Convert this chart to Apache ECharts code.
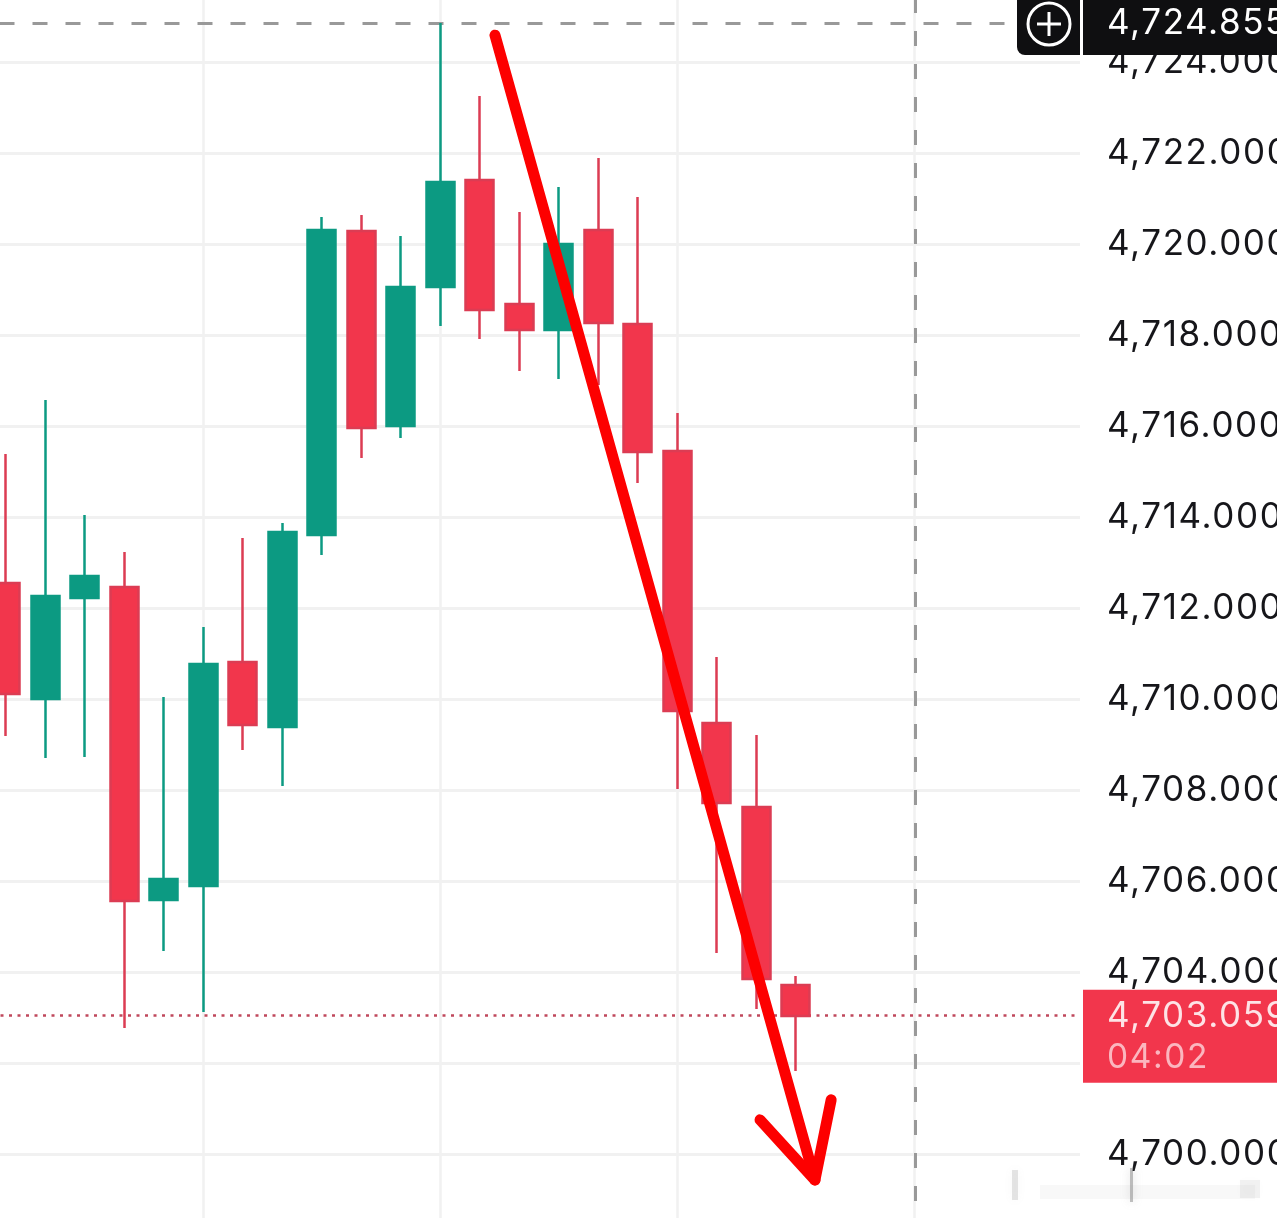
<!DOCTYPE html>
<html><head><meta charset="utf-8">
<style>html,body{margin:0;padding:0;background:#fff;overflow:hidden}#c{width:1277px;height:1218px}</style>
<script src="https://cdn.jsdelivr.net/npm/echarts@6/dist/echarts.min.js"></script>
</head><body><div id="c"></div>
<script>
// position of each candle on the shared horizontal time scale
const slots = [1,2,3,4,5,6,7,8,9,10,11,12,13,14,15,16,17,18,19,20,21];
const opens  = [4712.549,4710.0,4712.22,4712.462,4705.582,4705.89,4710.813,4709.385,4713.604,4720.286,4716.0,4719.055,4721.407,4718.681,4718.11,4720.308,4718.242,4715.451,4709.473,4707.626,4703.714];
const closes = [4710.11,4712.264,4712.703,4705.56,4706.044,4710.769,4709.429,4713.67,4720.308,4715.956,4719.055,4721.363,4718.549,4718.11,4720.0,4718.264,4715.429,4709.736,4707.714,4703.846,4703.033];
const lows   = [4709.187,4708.703,4708.725,4702.769,4704.462,4703.121,4708.879,4708.088,4713.165,4715.297,4715.736,4718.198,4717.912,4717.209,4717.033,4716.901,4714.747,4708.022,4704.418,4703.187,4701.824];
const highs  = [4715.385,4716.571,4714.044,4713.231,4710.044,4711.582,4713.538,4713.868,4720.593,4720.637,4720.176,4724.855,4723.253,4720.703,4721.253,4721.89,4721.033,4716.286,4710.923,4709.209,4703.912];
const lastPrice = 4703.059;
const highPrice = 4724.855;
const countdown = '04:02';
const crosshairSlot = 24.02;
// hand-drawn arrow annotation, in chart units
const arrowX = [13.38,21.48];
const arrowY = [4724.59,4699.43];
const headX = [20.09,21.48,21.89];
const headY = [4700.75,4699.43,4701.19];

const FONT = 'Inter';
const GREEN = '#0c9a82', RED = '#f2364c', WICK_RED = '#dc3c53';
const fmt = v => v.toLocaleString('en-US',{minimumFractionDigits:3,maximumFractionDigits:3});

const chart = echarts.init(document.getElementById('c'),null,{renderer:'canvas'});
const lineOf = (xs,ys) => xs.map((x,i)=>[x,ys[i]]);
chart.setOption({
  animation:false,
  backgroundColor:'#ffffff',
  grid:{left:-33.5,width:1113.5,top:-29,height:1274,containLabel:false,outerBoundsMode:'none'},
  tooltip:{show:false},
  legend:{show:false},
  xAxis:{type:'value',min:0,max:28.19,interval:6,
    axisLine:{show:false},axisTick:{show:false},axisLabel:{show:false},
    splitLine:{show:true,showMaxLine:false,showMinLine:false,lineStyle:{color:'#f1f1f1',width:2.5}}},
  yAxis:{type:'value',position:'right',min:4698,max:4726,interval:2,
    axisLine:{show:false},axisTick:{show:false},
    axisLabel:{show:true,margin:27,color:'#16161a',fontFamily:FONT,fontSize:35,
      formatter:v=>fmt(v),showMinLabel:false,showMaxLabel:false,align:'left'},
    splitLine:{show:true,lineStyle:{color:'#f1f1f1',width:3}}},
  series:[
    {type:'candlestick',name:'price',barWidth:28.5,z:3,
     data:slots.map((s,i)=>[s,opens[i],closes[i],lows[i],highs[i]]),
     encode:{x:0,y:[1,2,3,4]},
     itemStyle:{color:GREEN,color0:RED,borderColor:GREEN,borderColor0:WICK_RED,borderWidth:2.5},
     markLine:{silent:true,symbol:'none',label:{show:false},animation:false,z:2,data:[
       {yAxis:highPrice,lineStyle:{color:'#999999',type:[15,18],width:3}},
       {xAxis:crosshairSlot,lineStyle:{color:'#999999',type:[15,18],dashOffset:22,width:3}},
       {yAxis:lastPrice,lineStyle:{color:'#c0485c',type:[3,5.5],width:2.5}}
     ]}},
    {type:'line',name:'arrow',z:6,symbol:'none',silent:true,clip:false,data:lineOf(arrowX,arrowY),
     lineStyle:{color:'#fd0000',width:11,cap:'round',join:'round'}},
    {type:'line',name:'arrow head',z:6,symbol:'none',silent:true,clip:false,data:lineOf(headX,headY),
     lineStyle:{color:'#fd0000',width:11,cap:'round',join:'round'}}
  ]
});
const yHigh = chart.convertToPixel({yAxisIndex:0},highPrice);
const yLast = chart.convertToPixel({yAxisIndex:0},lastPrice);
const smudge = (x,y,w,h,o)=>({type:'rect',shape:{x,y,width:w,height:h},z:1,
  style:{fill:'rgba(150,150,150,'+o+')',shadowBlur:8,shadowColor:'rgba(150,150,150,'+o+')'}});
const cv = chart.getDom().querySelector('canvas');
if (cv) cv.getContext('2d').letterSpacing = '1.6px';
chart.setOption({graphic:{elements:[
  {type:'rect',z:20,shape:{x:1017,y:-10,width:63,height:65,r:[0,0,0,8]},style:{fill:'#0f0f11'}},
  {type:'rect',z:20,shape:{x:1083,y:-10,width:194,height:65},style:{fill:'#0f0f11'}},
  {type:'circle',z:21,shape:{cx:1049,cy:24,r:21},style:{fill:'none',stroke:'#fff',lineWidth:3}},
  {type:'line',z:21,shape:{x1:1037,y1:24,x2:1061,y2:24},style:{stroke:'#fff',lineWidth:3}},
  {type:'line',z:21,shape:{x1:1049,y1:12,x2:1049,y2:36},style:{stroke:'#fff',lineWidth:3}},
  {type:'text',z:22,x:1107,y:yHigh,style:{text:fmt(highPrice),fill:'#fff',font:'35px '+FONT,verticalAlign:'middle'}},
  {type:'rect',z:20,shape:{x:1083,y:yLast-25,width:194,height:93},style:{fill:'#f2364c'}},
  {type:'text',z:22,x:1107,y:yLast+2,style:{text:fmt(lastPrice),fill:'#fde3e6',font:'35px '+FONT,verticalAlign:'middle'}},
  {type:'text',z:22,x:1107,y:yLast+43,style:{text:countdown,fill:'#fbb6bf',font:'33.5px '+FONT,verticalAlign:'middle'}},
  smudge(1012,1170,6,30,0.25),smudge(1130,1168,3,34,0.6),smudge(1040,1185,215,14,0.07),smudge(1240,1180,20,18,0.12)
]}});
</script></body></html>
